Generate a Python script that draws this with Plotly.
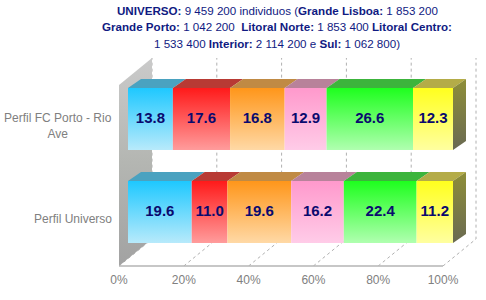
import plotly.graph_objects as go

# ---------------- data ----------------
categories = ["Perfil Universo", "Perfil FC Porto - Rio Ave"]
category_labels = ["Perfil Universo", "Perfil FC Porto - Rio<br>Ave"]
series = ["Grande Lisboa", "Grande Porto", "Litoral Norte",
          "Litoral Centro", "Interior", "Sul"]
perfil_universo = [19.6, 11.0, 19.6, 16.2, 22.4, 11.2]
perfil_fc_porto = [13.8, 17.6, 16.8, 12.9, 26.6, 12.3]
values = [perfil_universo, perfil_fc_porto]
tick_values = [0, 20, 40, 60, 80, 100]
tick_labels = ["0%", "20%", "40%", "60%", "80%", "100%"]
title_lines = [
    "<b>UNIVERSO:</b> 9 459 200 individuos (<b>Grande Lisboa:</b> 1 853 200",
    "<b>Grande Porto:</b> 1 042 200  <b>Litoral Norte:</b> 1 853 400 <b>Litoral Centro:</b>",
    "1 533 400 <b>Interior:</b> 2 114 200 e <b>Sul:</b> 1 062 800)",
]

# ---------------- style ----------------
front_top = ["#1EC8FF", "#FF1A1A", "#FF961A", "#FF99CC", "#1EFF1E", "#FFFF1E"]
front_bottom = ["#B8EAFB", "#FF9C9C", "#FFD9A6", "#FFCCE8", "#B0FFB0", "#FFFFA0"]
top_face = ["#4AA2C0", "#B83A34", "#C08A44", "#B8829A", "#3CB43C", "#B4AC48"]
side_top, side_bottom = "#8E8E38", "#6A6A52"
navy = "#0A0A6E"
title_color = "#101A82"
gray_txt = "#808080"
FONT = "Liberation Sans, Arial"

W, H = 486, 300
ML, MB = 119, 34
PW, PH = W - ML, H - MB
AX_PX = 3.24          # px per % on the floor axis
BAR_OFF, BAR_PX = 9, 3.25   # bar front plane
CAT_PX, CAT0_PY = 93, 212
y_lo, y_hi = (CAT0_PY - PH) / CAT_PX, CAT0_PY / CAT_PX
half = 31 / CAT_PX
bdx, bdy = 13 / BAR_PX, 9 / CAT_PX          # bar depth
wdx, wdy = 33 / AX_PX, 27 / CAT_PX          # wall depth
wall_top = (CAT0_PY - 58) / CAT_PX

fig = go.Figure()

# left wall
fig.add_trace(go.Scatter(
    x=[0, 0, wdx, wdx, 0], y=[y_lo, wall_top - wdy, wall_top, y_lo + wdy, y_lo],
    fill="toself", mode="lines", line=dict(width=0),
    fillgradient=dict(type="vertical", colorscale=[[0, "#A2A2A2"], [0.5, "#B4B6B2"], [1, "#CACACA"]]),
    hoverinfo="skip", showlegend=False, xaxis="x", yaxis="y"))

# bars
for ci, vals in enumerate(values):
    yb, yt = ci - half, ci + half
    start = 0.0
    for si, v in enumerate(vals):
        x0, x1 = start, start + v
        fig.add_trace(go.Scatter(
            x=[x0, x1, x1, x0, x0], y=[yb, yb, yt, yt, yb],
            fill="toself", mode="lines", line=dict(width=0),
            fillgradient=dict(type="vertical",
                              colorscale=[[0, front_bottom[si]], [1, front_top[si]]]),
            name=series[si], hoverinfo="skip", showlegend=False,
            xaxis="x2", yaxis="y"))
        fig.add_trace(go.Scatter(
            x=[x0, x1, x1 + bdx, x0 + bdx, x0], y=[yt, yt, yt + bdy, yt + bdy, yt],
            fill="toself", mode="lines", line=dict(width=0), fillcolor=top_face[si],
            hoverinfo="skip", showlegend=False, xaxis="x2", yaxis="y"))
        start = x1
    fig.add_trace(go.Scatter(
        x=[start, start + bdx, start + bdx, start, start],
        y=[yb, yb + bdy, yt + bdy, yt, yb],
        fill="toself", mode="lines", line=dict(width=0),
        fillgradient=dict(type="vertical", colorscale=[[0, side_bottom], [1, side_top]]),
        hoverinfo="skip", showlegend=False, xaxis="x2", yaxis="y"))

# value labels
for ci, vals in enumerate(values):
    cx, acc = [], 0.0
    for v in vals:
        cx.append(acc + v / 2)
        acc += v
    fig.add_trace(go.Scatter(
        x=cx, y=[ci] * len(vals), mode="text",
        text=[f"{v:.1f}" for v in vals],
        textfont=dict(family=FONT, size=15, color=navy, weight="bold"),
        hoverinfo="skip", showlegend=False, xaxis="x2", yaxis="y"))

# grid lines (floor diagonal + back wall vertical) and floor axis line
shapes = []
for tv in tick_values:
    shapes.append(dict(
        type="path", xref="x", yref="y", layer="below",
        path=f"M {tv},{y_lo} L {tv + wdx},{y_lo + wdy} L {tv + wdx},{wall_top}",
        line=dict(color="#B0B0B0", width=1, dash="3px,3px")))
shapes.append(dict(type="line", xref="x", yref="paper",
                   x0=tick_values[0], x1=tick_values[-1], y0=0, y1=0,
                   line=dict(color="#B4B4B4", width=1.5)))

# category labels
annotations = []
for ci, lab in enumerate(category_labels):
    annotations.append(dict(
        text=lab, xref="paper", x=0, xshift=-5, xanchor="right",
        yref="y", y=ci, yshift=-7, yanchor="middle", align="center",
        showarrow=False,
        font=dict(family=FONT, size=12, color=gray_txt)))

# title (three centred lines)
title_cx = (277 - ML) / PW
for li, line in enumerate(title_lines):
    annotations.append(dict(
        text=line, xref="paper", x=title_cx, xanchor="center",
        yref="paper", y=1 + (H - PH - MB) / PH, yanchor="middle",
        yshift=-(10 + 16.5 * li), showarrow=False,
        font=dict(family=FONT, size=11.6, color=title_color)))

fig.update_layout(
    width=W, height=H,
    margin=dict(l=ML, r=0, t=0, b=MB, autoexpand=False),
    paper_bgcolor="white", plot_bgcolor="white",
    xaxis=dict(range=[0, PW / AX_PX], tickvals=tick_values, ticktext=tick_labels,
               showgrid=False, zeroline=False, showline=False, ticks="",
               ticklabelstandoff=5,
               tickfont=dict(family=FONT, size=12, color=gray_txt),
               fixedrange=True),
    xaxis2=dict(range=[-BAR_OFF / BAR_PX, (PW - BAR_OFF) / BAR_PX], overlaying="x",
                visible=False, fixedrange=True),
    yaxis=dict(range=[y_lo, y_hi], visible=False, fixedrange=True),
    shapes=shapes, annotations=annotations, showlegend=False,
)

fig.write_html("out.html")
